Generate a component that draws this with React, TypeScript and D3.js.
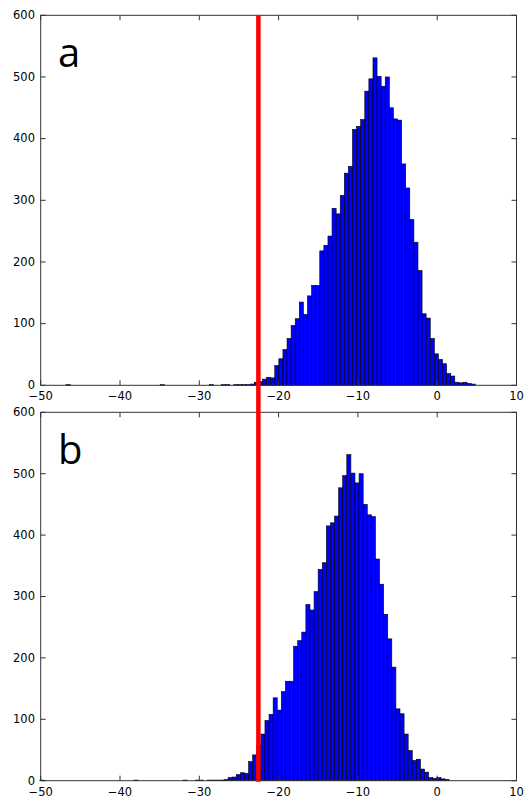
import React from "react";
import * as d3 from "d3";

// ---- data ----
const countsA: number[] = [
  1, 0, 0, 0, 0, 0, 0, 0, 0, 0,
  0, 0, 0, 0, 0, 0, 0, 0, 0, 0,
  0, 0, 0, 1, 0, 0, 0, 0, 0, 0,
  0, 0, 0, 0, 0, 1, 0, 0, 1, 1,
  0, 1, 1, 1, 1, 2, 5, 6, 10, 13,
  12, 32, 43, 58, 76, 97, 108, 135, 115, 145,
  162, 162, 218, 227, 242, 287, 278, 308, 344, 355,
  415, 420, 431, 477, 497, 531, 501, 485, 500, 450,
  432, 430, 359, 320, 269, 232, 186, 116, 109, 76,
  51, 42, 35, 19, 15, 5, 4, 5, 3, 2,
];
const countsB: number[] = [
  1, 0, 0, 0, 0, 0, 0, 0, 0, 0,
  0, 0, 0, 0, 0, 0, 0, 0, 0, 0,
  0, 0, 0, 1, 0, 0, 0, 0, 0, 0,
  0, 0, 0, 0, 0, 1, 0, 0, 1, 1,
  0, 1, 1, 1, 1, 2, 5, 6, 10, 13,
  12, 31, 42, 58, 76, 98, 108, 135, 115, 145,
  162, 162, 219, 228, 242, 287, 278, 308, 344, 355,
  415, 420, 431, 477, 497, 531, 501, 485, 500, 450,
  433, 430, 361, 320, 271, 231, 185, 117, 109, 76,
  49, 33, 35, 19, 14, 5, 4, 5, 3, 2,
];
const binStartA = -46.8;
const binStartB = -50.1;
const binWidth = 0.516;
const xTicks: number[] = [-50, -40, -30, -20, -10, 0, 10];
const yTicks: number[] = [0, 100, 200, 300, 400, 500, 600];
const panelLabels: string[] = ["a", "b"];
const thresholdValue = -22.55;

const W = 524;
const H = 799;
const left = 40.7;
const right = 516.5;
const panels = [
  { top: 15.3, bottom: 385.3, counts: countsA, start: binStartA, label: panelLabels[0] },
  { top: 412.3, bottom: 780.7, counts: countsB, start: binStartB, label: panelLabels[1] },
];

const x = d3.scaleLinear().domain([-50, 10]).range([left, right]);
const tickFont = "'DejaVu Sans', sans-serif";
const fmt = (v: number) => (v < 0 ? "\u2212" + Math.abs(v) : String(v));

function Panel({ p }: { p: (typeof panels)[number] }) {
  const y = d3.scaleLinear().domain([0, 600]).range([p.bottom, p.top]);
  const tl = 5;
  return (
    <g>
      {p.counts.map((c, i) => {
        if (c <= 0) return null;
        const x0 = p.start + i * binWidth;
        const x1 = x0 + binWidth;
        return (
          <rect
            key={i}
            x={x(x0)}
            y={y(c)}
            width={x(x1) - x(x0)}
            height={y(0) - y(c)}
            fill="#0000ff"
            stroke="#000"
            strokeWidth={0.6}
          />
        );
      })}
      <rect
        x={left}
        y={p.top}
        width={right - left}
        height={p.bottom - p.top}
        fill="none"
        stroke="#333"
        strokeWidth={1}
      />
      {xTicks.map((t) => (
        <g key={"x" + t}>
          <line x1={x(t)} x2={x(t)} y1={p.bottom} y2={p.bottom - tl} stroke="#333" />
          <line x1={x(t)} x2={x(t)} y1={p.top} y2={p.top + tl} stroke="#333" />
          <text
            x={x(t)}
            y={p.bottom + 15}
            textAnchor="middle"
            fontFamily={tickFont}
            fontSize={11.5}
            fill="#000"
          >
            {fmt(t)}
          </text>
        </g>
      ))}
      {yTicks.map((t) => (
        <g key={"y" + t}>
          <line x1={left} x2={left + tl} y1={y(t)} y2={y(t)} stroke="#333" />
          <line x1={right} x2={right - tl} y1={y(t)} y2={y(t)} stroke="#333" />
          <text
            x={35}
            y={y(t) + 3.8}
            textAnchor="end"
            fontFamily={tickFont}
            fontSize={11.5}
            fill="#000"
          >
            {t}
          </text>
        </g>
      ))}
      <text
        x={58}
        y={p.top + 52}
        fontFamily="'Open Sans', sans-serif"
        fontSize={40}
        fill="#000"
      >
        {p.label}
      </text>
    </g>
  );
}

export default function App() {
  return (
    <svg
      width={W}
      height={H}
      style={{ position: "absolute", left: 0, top: 0, background: "#fff" }}
    >
      <rect x={0} y={0} width={W} height={H} fill="#fff" />
      {panels.map((p, i) => (
        <Panel key={i} p={p} />
      ))}
      <line
        x1={x(thresholdValue)}
        x2={x(thresholdValue)}
        y1={panels[0].top}
        y2={panels[1].bottom + 1}
        stroke="#ff0000"
        strokeWidth={4.5}
      />
    </svg>
  );
}
